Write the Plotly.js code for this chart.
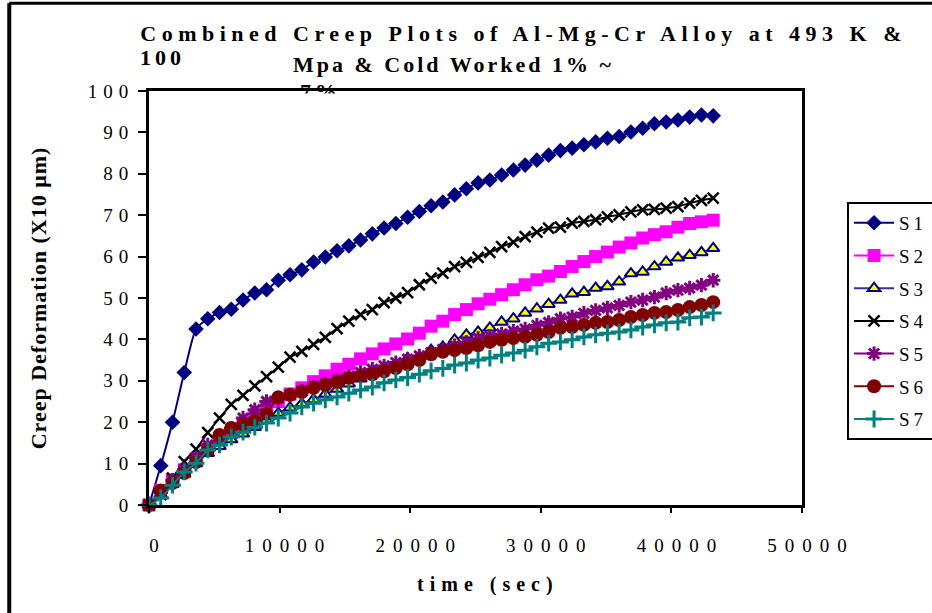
<!DOCTYPE html>
<html>
<head>
<meta charset="utf-8">
<script src="https://cdn.plot.ly/plotly-3.0.1.min.js"></script>
<style>
html, body { margin: 0; padding: 0; background: #fff; }
#chart { width: 932px; height: 613px; }
.xtick text { letter-spacing: 8px; }
.ytick text { letter-spacing: 6px; }
.legendtext { letter-spacing: 4px; }
.annotation-text { letter-spacing: 4px; }
.annotation[data-index="0"] .annotation-text { letter-spacing: 5.5px; }
.annotation[data-index="2"] .annotation-text { letter-spacing: 3px; }
.annotation[data-index="5"] .annotation-text { letter-spacing: 6px; }
.g-ytitle text { letter-spacing: 1px; }
</style>
</head>
<body>
<div id="chart"></div>
<script>
// time (sec)
const time = [0, 900, 1800, 2700, 3600, 4500, 5400, 6300, 7200, 8100,
  9000, 9900, 10800, 11700, 12600, 13500, 14400, 15300, 16200, 17100,
  18000, 18900, 19800, 20700, 21600, 22500, 23400, 24300, 25200, 26100,
  27000, 27900, 28800, 29700, 30600, 31500, 32400, 33300, 34200, 35100,
  36000, 36900, 37800, 38700, 39600, 40500, 41400, 42300, 43200];

const seriesNames = ["S1", "S2", "S3", "S4", "S5", "S6", "S7"];

const s1 = [0, 9.5, 20, 32, 42.5, 45, 46.5, 47.3, 49.5, 51.2,
  52, 54.3, 55.6, 56.8, 58.7, 59.9, 61.4, 62.6, 64, 65.5,
  66.9, 68, 69.5, 70.9, 72.3, 73.2, 74.9, 76.4, 77.8, 78.5,
  79.7, 80.9, 82.1, 83.3, 84.5, 85.6, 86.2, 87, 87.7, 88.6,
  89, 90.1, 91, 92.1, 92.5, 93, 93.7, 94.2, 94];

const s2 = [0, 3.5, 6, 8.5, 11, 13.5, 15.8, 17.5, 19.5, 21.5,
  23.5, 25, 26.8, 28.3, 29.8, 31.2, 32.8, 34, 35.3, 36.5,
  37.7, 38.9, 40.1, 41.5, 43.2, 44.4, 46, 47.2, 48.6, 49.7,
  50.8, 52, 53.2, 54.4, 55.3, 56.4, 57.6, 58.8, 60, 61.1,
  62.3, 63.3, 64.5, 65.3, 66, 67.1, 68, 68.4, 68.8];

const s3 = [0, 2.5, 5, 7.5, 10, 12.5, 14.2, 15.8, 17.2, 18.8,
  20.5, 22.2, 23.5, 24.5, 25.5, 26.8, 28, 29.3, 30.5, 31.6,
  32.8, 34, 35.4, 35.8, 37.4, 38.2, 39.9, 41.1, 41.8, 42.8,
  44.2, 45, 46.4, 47.4, 48.5, 49.5, 51, 51.4, 52.4, 52.8,
  53.9, 55.9, 56.3, 57.6, 58.7, 59.7, 60.3, 61, 62];

const s4 = [0, 2.5, 6.5, 10.5, 13.5, 17.5, 21, 24.3, 26.5, 28.8,
  31, 33.3, 35.7, 37.1, 38.8, 40.5, 42.6, 44.4, 46, 47.2,
  48.9, 50, 51.3, 53.2, 54.8, 56, 57.6, 58.6, 59.8, 61,
  62.4, 63.5, 64.8, 65.9, 66.9, 67.1, 68.1, 68.5, 68.9, 69.6,
  70.1, 70.8, 71.3, 71.4, 71.7, 72.1, 72.9, 73.6, 74.1];

const s5 = [0, 3, 6, 8.5, 11.5, 14.5, 16.5, 18.5, 21, 23,
  25, 25.8, 26.6, 27.5, 28.5, 29.3, 30.2, 31, 32, 32.8,
  33.6, 34.4, 35.2, 36, 36.8, 37.6, 38.5, 39.3, 40.3, 40.8,
  41.3, 42, 42.5, 43.4, 44.1, 45, 45.4, 46.3, 47, 47.6,
  48.2, 49, 49.5, 50.2, 51.2, 51.9, 52.4, 53.1, 54.3];

const s6 = [0, 3.5, 5.3, 7.7, 10.4, 13.3, 16.9, 18.6, 19.4, 20.2,
  22, 26, 26.6, 27.3, 28.3, 29, 29.7, 30.7, 31.2, 31.6,
  32.3, 33.1, 34, 35, 36.4, 37, 37.4, 37.9, 38.6, 39.4,
  39.9, 40.3, 40.6, 41.1, 41.8, 42.8, 43, 43.5, 44, 44.2,
  44.7, 45.4, 45.9, 46.4, 46.6, 47.1, 47.8, 48.3, 49];

const s7 = [0, 1.7, 4.8, 8, 10.1, 13.3, 14.5, 16.4, 17.6, 18.8,
  19.8, 21, 22.2, 23.7, 24.6, 25.4, 26.1, 27, 27.8, 28.5,
  29.5, 30.2, 30.8, 31.6, 32.4, 33, 33.8, 34.3, 35, 35.5,
  36.2, 36.7, 37.4, 38.2, 39.1, 39.4, 39.9, 40.6, 41.1, 41.5,
  41.8, 42.3, 43, 43.5, 44, 44.2, 45.2, 45.4, 46.4];

const xTickVals = [0, 10000, 20000, 30000, 40000, 50000];
const yTickVals = [0, 10, 20, 30, 40, 50, 60, 70, 80, 90, 100];

const titleLine1 = "Combined Creep Plots of Al-Mg-Cr Alloy at 493 K &";
const titleWrap1 = "100";
const titleLine2 = "Mpa & Cold Worked 1% ~";
const titleWrap2 = "7%";
const xTitle = "time (sec)";
const yTitle = "Creep Deformation (X10 μm)";

const FONT = "Liberation Serif, Times New Roman, serif";

const styles = [
  {line: "#000080", marker: {symbol: "diamond", size: 12, color: "#000080"}},
  {line: "#FF00FF", marker: {symbol: "square", size: 13, color: "#FF00FF"}},
  {line: "#333399", marker: {symbol: "triangle-up", size: 11, color: "#FFFF00", line: {color: "#000080", width: 2}}},
  {line: "#000000", marker: {symbol: "x-thin-open", size: 11, color: "#000000", line: {color: "#000000", width: 2.5}}},
  {line: "#800080", marker: {symbol: "asterisk-open", size: 12, color: "#800080", line: {color: "#800080", width: 3}}},
  {line: "#800000", marker: {symbol: "circle", size: 14, color: "#800000"}},
  {line: "#008080", marker: {symbol: "cross-thin-open", size: 12, color: "#008080", line: {color: "#008080", width: 3}}}
];

const allY = [s1, s2, s3, s4, s5, s6, s7];
const traces = allY.map((y, i) => ({
  x: time,
  y: y,
  name: seriesNames[i],
  legendgroup: seriesNames[i],
  type: "scatter",
  mode: "lines+markers",
  line: {color: styles[i].line, width: 2, shape: "spline", smoothing: 0.6},
  marker: styles[i].marker,
  cliponaxis: false
}));

const boldFont = {family: FONT, size: 22, color: "#000000", weight: "bold"};

const layout = {
  width: 932,
  height: 613,
  margin: {l: 149, r: 130, t: 91, b: 108, autoexpand: false},
  paper_bgcolor: "#ffffff",
  plot_bgcolor: "#ffffff",
  showlegend: true,
  font: {family: FONT, color: "#000000", size: 19},
  xaxis: {
    range: [0, 50000],
    tickvals: xTickVals,
    tickformat: "d",
    showgrid: false,
    zeroline: false,
    showline: true,
    linecolor: "#000000",
    linewidth: 3,
    mirror: true,
    ticks: "outside",
    ticklen: 5,
    tickwidth: 2,
    tickcolor: "#000000",
    ticklabelstandoff: 16,
    ticklabelshift: 9,
    tickfont: {family: FONT, size: 19, color: "#000000"}
  },
  yaxis: {
    range: [0, 100],
    tickvals: yTickVals,
    showgrid: false,
    zeroline: false,
    showline: true,
    linecolor: "#000000",
    linewidth: 3,
    mirror: true,
    ticks: "outside",
    ticklen: 8,
    tickwidth: 2,
    tickcolor: "#000000",
    tickfont: {family: FONT, size: 19, color: "#000000"},
    title: {text: yTitle, font: {family: FONT, size: 22, color: "#000000", weight: "bold"}, standoff: 36}
  },
  legend: {
    x: 1.069, y: 0.732, xanchor: "left", yanchor: "top",
    bgcolor: "#ffffff",
    bordercolor: "#000000",
    borderwidth: 2,
    font: {family: FONT, size: 19, color: "#000000"},
    tracegroupgap: 5,
    itemwidth: 40
  },
  shapes: [
    {type: "line", xref: "paper", yref: "paper", x0: -0.214, x1: -0.214, y0: 1.212, y1: -0.4, line: {color: "#000000", width: 4}},
    {type: "line", xref: "paper", yref: "paper", x0: -0.214, x1: 1.4, y0: 1.212, y1: 1.212, line: {color: "#000000", width: 3}}
  ],
  annotations: [
    {xref: "paper", yref: "paper", x: 0.573, y: 1.14, xanchor: "center", yanchor: "middle", showarrow: false,
     text: titleLine1, font: boldFont},
    {xref: "paper", yref: "paper", x: -0.017, y: 1.081, xanchor: "left", yanchor: "middle", showarrow: false,
     text: titleWrap1, font: boldFont},
    {xref: "paper", yref: "paper", x: 0.467, y: 1.063, xanchor: "center", yanchor: "middle", showarrow: false,
     text: titleLine2, font: boldFont},
    {xref: "paper", yref: "paper", x: 0.228, y: 0.998, xanchor: "left", yanchor: "middle", showarrow: false,
     text: titleWrap2, font: boldFont},
    {xref: "paper", yref: "paper", x: 0.22, y: 0.994, xanchor: "left", yanchor: "top", showarrow: false,
     text: " ", width: 60, height: 14, bgcolor: "#ffffff", borderpad: 0},
    {xref: "paper", yref: "paper", x: 0.519, y: -0.193, xanchor: "center", yanchor: "middle", showarrow: false,
     text: xTitle, font: {family: FONT, size: 20, color: "#000000", weight: "bold"}}
  ]
};

Plotly.newPlot("chart", traces, layout, {displayModeBar: false, staticPlot: true});
</script>
</body>
</html>
